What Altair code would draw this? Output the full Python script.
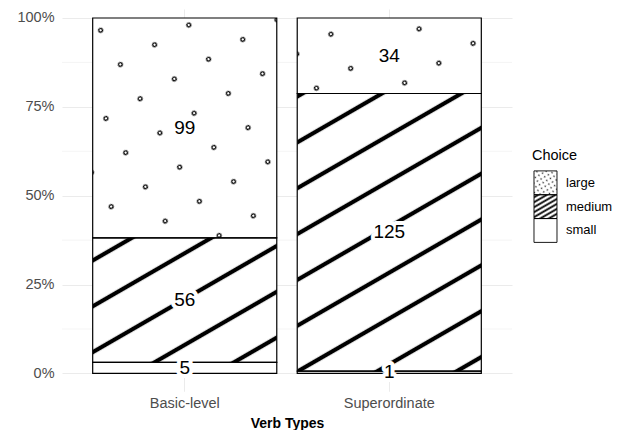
import altair as alt
import pandas as pd

# ---------------- data ----------------
verb_types = ["Basic-level", "Superordinate"]
choice_levels = ["large", "medium", "small"]
large_counts = [99, 34]
medium_counts = [56, 125]
small_counts = [5, 1]
y_breaks = [0, 0.25, 0.5, 0.75, 1.0]
y_minor_breaks = [0.125, 0.375, 0.625, 0.875]
x_title = "Verb Types"
legend_title = "Choice"

series = {"large": large_counts, "medium": medium_counts, "small": small_counts}
rows = []
for i, v in enumerate(verb_types):
    for c in choice_levels:
        rows.append({"verb": v, "Choice": c, "count": series[c][i],
                     "order": choice_levels.index(c)})
df = pd.DataFrame(rows)
legend_df = pd.DataFrame({"Choice": choice_levels})
minor_df = pd.DataFrame({"v": y_minor_breaks})
title_df = pd.DataFrame({"t": [legend_title]})

# ---------------- styles ----------------
FONT = "Liberation Sans"
GRID = "#EBEBEB"
LABEL = "#4D4D4D"

# pattern svg pieces (pattern is anchored in plot coordinates so it is continuous across bars)
DOT_S = 39.5
STRIPE_S = 39.7
dot_gx, dot_gy = 112.3, 69.9
str_gx, str_gy = 30.0, 251.9

svg_open = "data:image/svg+xml;utf8,<svg xmlns='http://www.w3.org/2000/svg'><defs>"
svg_close = "</defs><rect x='0' y='0' width='4000' height='4000' fill='url(%23p)'/></svg>"

dot_head = (svg_open + f"<pattern id='p' patternUnits='userSpaceOnUse' width='{DOT_S}' height='{DOT_S}' "
            "patternTransform='translate(")
dot_tail = (f") rotate(-30) translate({-DOT_S/2},{-DOT_S/2})'>"
            f"<circle cx='{DOT_S/2}' cy='{DOT_S/2}' r='1.9' fill='white' stroke='black' stroke-width='1.3'/>"
            "</pattern>" + svg_close)
str_head = (svg_open + f"<pattern id='p' patternUnits='userSpaceOnUse' width='{STRIPE_S}' height='{STRIPE_S}' "
            "patternTransform='translate(")
str_tail = (f") rotate(-30) translate(0,{-STRIPE_S/2})'>"
            f"<rect x='0' y='{STRIPE_S/2 - 2.1}' width='{STRIPE_S}' height='4.2' fill='black'/>"
            "</pattern>" + svg_close)

X0 = "scale('main_x', datum.verb)"
Y0 = "scale('main_y', datum.y1)"
MAIN_EXPR = (
    f'datum.Choice == "large" ? '
    f'"{dot_head}" + ({dot_gx} - {X0}) + "," + ({dot_gy} - {Y0}) + "{dot_tail}" : '
    f'"{str_head}" + ({str_gx} - {X0}) + "," + ({str_gy} - {Y0}) + "{str_tail}"'
)

leg_dot = (svg_open + "<pattern id='p' patternUnits='userSpaceOnUse' width='4.2' height='4.2' "
           "patternTransform='rotate(-30)'><circle cx='2.1' cy='2.1' r='0.8' fill='%23333'/></pattern>"
           + svg_close)
leg_str = (svg_open + "<pattern id='p' patternUnits='userSpaceOnUse' width='4.3' height='4.3' "
           "patternTransform='rotate(-30)'><rect x='0' y='1.3' width='4.3' height='1.8' fill='black'/></pattern>"
           + svg_close)
LEG_EXPR = f'datum.Choice == "large" ? "{leg_dot}" : "{leg_str}"'

no_view = alt.ViewBackground(stroke="transparent", strokeWidth=0)

# ---------------- main chart ----------------
xscale = alt.Scale(domain=verb_types, paddingInner=0.1, paddingOuter=0.15)
yscale = alt.Scale(domain=[-0.05, 1.0253], nice=False, zero=False)

x_enc = alt.X("verb:N", scale=xscale,
              axis=alt.Axis(title=x_title, labelAngle=0, domain=False, ticks=False, grid=True,
                            gridColor=GRID, gridWidth=1.07, labelColor=LABEL, labelFontSize=14.5,
                            labelFont=FONT, titleFont=FONT, titleFontSize=14, titleFontWeight="bold",
                            titleColor="black", labelPadding=5, titlePadding=7))
y_axis = alt.Axis(title=None, values=y_breaks, format=".0%", domain=False, ticks=False, grid=True,
                  gridColor=GRID, gridWidth=1.07, labelColor=LABEL, labelFontSize=14.5,
                  labelFont=FONT, labelPadding=8)
y_enc = alt.Y("y1:Q", scale=yscale, axis=y_axis)

base = alt.Chart(df).transform_stack(
    stack="count", groupby=["verb"], sort=[alt.SortField("order", order="descending")],
    offset="normalize", as_=["y0", "y1"]
).transform_calculate(ymid="(datum.y0 + datum.y1) / 2")

minor = alt.Chart(minor_df).mark_rule(color=GRID, strokeWidth=0.55).encode(
    y=alt.Y("v:Q", scale=yscale, axis=y_axis))

bars = base.mark_bar(fill="white").encode(x=x_enc, y=y_enc, y2="y0:Q")

patterns = base.transform_filter("datum.Choice != 'small'").mark_image(aspect=False).encode(
    x=x_enc, y=y_enc, y2="y0:Q", url=alt.value({"expr": MAIN_EXPR}))

outline = base.mark_bar(fill="white", fillOpacity=0, stroke="black", strokeWidth=1.2).encode(
    x=x_enc, y=y_enc, y2="y0:Q")

halo = base.mark_text(font=FONT, fontSize=19, fill="white", stroke="white", strokeWidth=8,
                      strokeJoin="round", baseline="middle").encode(
    x=x_enc, y=alt.Y("ymid:Q", scale=yscale, axis=y_axis), text="count:Q")
labels = base.mark_text(font=FONT, fontSize=19, color="black", baseline="middle").encode(
    x=x_enc, y=alt.Y("ymid:Q", scale=yscale, axis=y_axis), text="count:Q")

main = alt.layer(minor, bars, patterns, outline, halo, labels).properties(
    width=450, height=382.2, name="main", view=no_view)

# ---------------- legend ----------------
leg_y = alt.Y("Choice:N", scale=alt.Scale(domain=choice_levels, range=[161.9, 233.4],
                                          paddingInner=0, paddingOuter=0), axis=None)
leg_base = alt.Chart(legend_df)
leg_keys = leg_base.mark_rect(fill="white").encode(x=alt.value(0), x2=alt.value(23), y=leg_y)
leg_pat = leg_base.transform_filter("datum.Choice != 'small'").mark_image(aspect=False).encode(
    x=alt.value(0), x2=alt.value(23), y=leg_y, url=alt.value({"expr": LEG_EXPR}))
leg_out = leg_base.mark_rect(fill="white", fillOpacity=0, stroke="black", strokeWidth=0.9).encode(
    x=alt.value(0), x2=alt.value(23), y=leg_y)
leg_lab = leg_base.mark_text(font=FONT, fontSize=13, align="left", baseline="middle",
                             color="black").encode(x=alt.value(32), y=leg_y, text="Choice:N")
leg_title = alt.Chart(title_df).mark_text(font=FONT, fontSize=14.5, align="left",
                                          baseline="middle", color="black").encode(
    x=alt.value(-2), y=alt.value(146.9), text="t:N")
legend = alt.layer(leg_keys, leg_pat, leg_out, leg_lab, leg_title).properties(
    width=23, height=382.2, name="legend", view=no_view)

chart = alt.hconcat(main, legend, spacing=19).properties(
    padding={"left": 8, "top": 1, "right": 5, "bottom": 2}
).configure_view(stroke="transparent", strokeWidth=0).configure(font=FONT)

chart.save("out.html", embed_options={"renderer": "svg", "actions": False})
